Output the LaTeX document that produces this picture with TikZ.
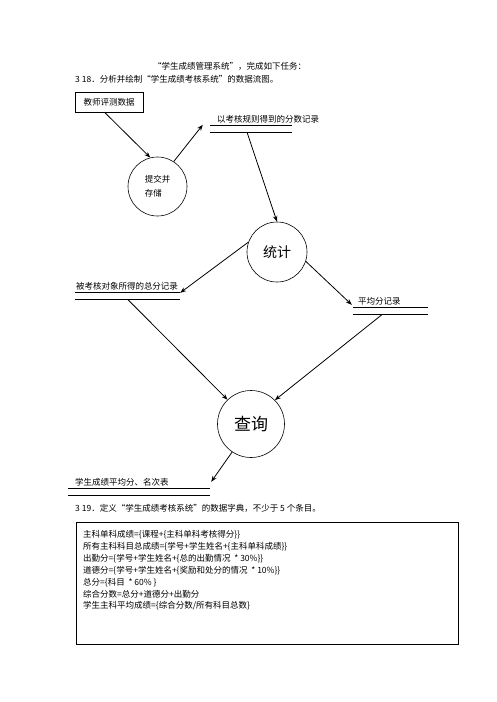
\documentclass[tikz,border=0pt]{standalone}
\usepackage{fontspec}
\setmainfont{Noto Sans CJK SC}
\usetikzlibrary{arrows.meta,calc}
\begin{document}
\begin{tikzpicture}
[x=1pt,y=-1pt,%
  flowDecorate/.style={-{Stealth[length=6pt,width=4.5pt]},line width=0.8pt},%
  processDecorate/.style={shape=circle,draw,line width=0.6pt,inner sep=0pt},%
  storeDecorate/.style={shape=rectangle,minimum height=6pt,inner sep=0pt},%
  storeLine/.style={-,line width=1pt},%
  textDecorate/.style={anchor=west,inner sep=0pt,font=\fontsize{8.5}{14}\selectfont},%
  boxDecorate/.style={shape=rectangle,draw,line width=1pt,inner sep=0pt}]
\useasboundingbox (0,0) rectangle (496,702);
%% header text
\node (head1) at (153,66) [textDecorate] {“学生成绩管理系统”，完成如下任务：};
\node (head2) at (75,79) [textDecorate] {3 18．分析并绘制“学生成绩考核系统”的数据流图。};
%% source
\node (teacher) at (109,102) [boxDecorate,minimum width=68pt,minimum height=20pt,
  font=\fontsize{8.5}{14}\selectfont] {教师评测数据};
%% processes
\node (save) at (157.5,186.5) [processDecorate,minimum size=59pt,align=left,
  font=\fontsize{8.5}{14}\selectfont] {提交并\\存储};
\node (stat) at (277,252) [processDecorate,minimum size=60pt,
  font=\fontsize{14}{16}\selectfont] {统计};
\node (query) at (251,424) [processDecorate,minimum size=67pt,
  font=\fontsize{17}{20}\selectfont] {查询};
%% data stores
\foreach \storename/\x/\y/\w/\dx/\txt in {
  rules/210/126/82/7/以考核规则得到的分数记录,
  total/75/293/105/1/被考核对象所得的总分记录,
  avg/353/308/75/5/平均分记录,
  result/68/489/142/7/学生成绩平均分、名次表}
{
  \node (\storename) at (\x+\w/2,\y+3) [storeDecorate,minimum width=\w pt] {};
  \draw[storeLine] (\storename.north west) -- (\storename.north east)
    (\storename.south west) -- (\storename.south east);
  \node (\storename-text) at ($(\storename.north west)+(\dx,-7)$) [textDecorate] {\txt};
}
%% data flows
\draw[flowDecorate] (teacher.248) -- (save.104);
\draw[flowDecorate] (save.57) -- ($(rules.north west)+(-7,-1)$);
\draw[flowDecorate] ($(rules.south)+(-4,0)$) -- (stat.north);
\draw[flowDecorate] (stat.161) -- (total.north east);
\draw[flowDecorate] (stat.-18) -- ($(avg.north west)+(-1,-3)$);
\draw[flowDecorate] (total.south) -- (query.134);
\draw[flowDecorate] ($(avg.south)+(-8,0)$) -- (query.45);
\draw[flowDecorate] (query.236) -- ($(result.north east)+(1,-7)$);
%% data dictionary
\node (q19) at (75,508) [textDecorate] {3 19．定义“学生成绩考核系统”的数据字典，不少于 5 个条目。};
\node (dict) at (267,583) [boxDecorate,minimum width=382pt,minimum height=122pt] {};
\foreach \row/\entry in {
  1/{主科单科成绩=\{课程+\{主科单科考核得分\}\}},
  2/{所有主科科目总成绩=\{学号+学生姓名+\{主科单科成绩\}\}},
  3/{出勤分=\{学号+学生姓名+\{总的出勤情况 \ * 30\%\}\}},
  4/{道德分=\{学号+学生姓名+\{奖励和处分的情况 \ * 10\%\}\}},
  5/{总分=\{科目 \ * 60\% \}},
  6/{综合分数=总分+道德分+出勤分},
  7/{学生主科平均成绩=\{综合分数/所有科目总数\}}}
{
  \node (entry\row) at (83,{523.2+11.8*\row}) [textDecorate] {\entry};
}
\end{tikzpicture}
\end{document}
